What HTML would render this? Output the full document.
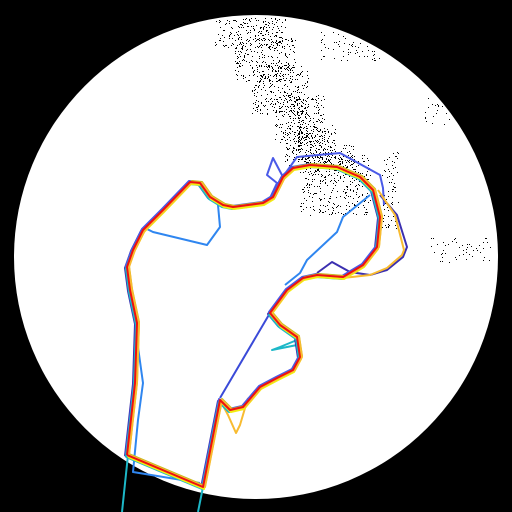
<!DOCTYPE html>
<html><head><meta charset="utf-8"><style>
html,body{margin:0;padding:0;background:#000;width:512px;height:512px;overflow:hidden}
svg{display:block}
</style></head><body>
<svg id="chart" width="512" height="512" viewBox="0 0 512 512" xmlns="http://www.w3.org/2000/svg">
<rect x="0" y="0" width="512" height="512" fill="#000"/>
<circle cx="256" cy="257" r="242" fill="#fff"/>
<g id="speckle"></g>
<g id="contours"></g>
</svg>
<script>
// main contour (x, y pairs)
const mainX = [127,135,137,130,127,133,143,163,190,200,210,223,233,263,273,283,293,310,337,360,373,380,377,363,343,317,303,287,270,280,297,300,293,277,260,243,230,220,203,127];
const mainY = [455,383,323,290,267,250,230,210,182,183,197,205,207,203,197,177,168,165,167,177,190,217,247,265,277,275,278,290,313,325,337,357,370,378,387,407,410,400,487,455];
const seriesColors = ['#3b2fb0','#4a5ae8','#2f86f0','#1db8c8','#5cc85a','#c8b820','#f2ee10','#f8bb30','#ee1010'];
const seriesDx = [-2,-1,1,-1,1,2,1,2,0];
const seriesDy = [1,-1,0,2,1,-1,2,0,0];
// extra features
const headBlueX = [283,273,267,277,270,275,297,340,380,383,384];
const headBlueY = [177,158,175,183,198,188,157,153,175,188,205];
const innerBlueX = [370,343,337,307,300,285];
const innerBlueY = [195,217,232,260,273,285];
const triBlueX = [145,153,207,220,218,213];
const triBlueY = [228,232,245,227,205,197];
const shaftBlueX = [220,270];
const shaftBlueY = [398,313];
const leftShaftX = [137,143,138,133,200];
const leftShaftY = [340,383,420,472,483];
const outerHeadX = [380,397,407,403,387,370,350,332,317];
const outerHeadY = [195,215,247,257,270,275,272,262,273];
const orangeHeadX = [378,395,404,402,387,370,343];
const orangeHeadY = [190,215,250,255,268,275,278];
const cyanArtX = [297,280,272,297];
const cyanArtY = [340,347,350,345];
const tailLX = [128,122];
const tailLY = [455,512];
const tailRX = [203,198];
const tailRY = [487,512];
const notchX = [220,228,236,240,248];
const notchY = [400,415,433,425,398];

const svg = document.getElementById('contours');
const NS = 'http://www.w3.org/2000/svg';
function poly(xs, ys, dx, dy, color, name, w){
  const p = document.createElementNS(NS,'polyline');
  p.setAttribute('points', xs.map((x,i)=>(x+dx)+','+(ys[i]+dy)).join(' '));
  p.setAttribute('fill','none');
  p.setAttribute('stroke',color);
  p.setAttribute('stroke-width',w||2);
  p.setAttribute('stroke-linejoin','round');
  
  
  svg.appendChild(p);
}
poly(headBlueX, headBlueY, 0,0,'#4a5ae8','head-outline-blue');
poly(innerBlueX, innerBlueY, 0,0,'#2f86f0','inner-line-blue');
poly(triBlueX, triBlueY, 0,0,'#2f86f0','trochanter-line-blue');
poly(shaftBlueX, shaftBlueY, 0,0,'#3a4ad8','shaft-line-blue');
poly(leftShaftX, leftShaftY, 0,0,'#2f86f0','left-shaft-blue');
poly(outerHeadX, outerHeadY, 0,0,'#3b2fb0','outer-head-darkblue');
poly(orangeHeadX, orangeHeadY, 0,0,'#f8bb30','outer-head-orange');
poly(cyanArtX, cyanArtY, 0,0,'#1db8c8','cyan-artifact');
poly(notchX, notchY, 0,0,'#f8bb30','notch-orange');
poly(tailLX, tailLY, 0,0,'#1db8c8','tail-left');
poly(tailRX, tailRY, 0,0,'#1db8c8','tail-right');
seriesColors.forEach((c,i)=>poly(mainX, mainY, seriesDx[i], seriesDy[i], c, 'contour-'+i));

// speckle texture
const sp = document.getElementById('speckle');
let seed = 7;
function rnd(){ seed = (seed*16807)%2147483647; return seed/2147483647; }
const blobs = [[250,30,35,18,260],[265,60,30,22,260],[280,90,28,25,260],[300,120,25,25,260],[310,145,25,20,180],[335,185,35,30,330],[330,160,25,15,120],[350,45,30,15,80],[300,130,3,20,60],[390,190,8,40,70],[460,250,30,12,50],[440,110,15,15,25]];
let d='';
blobs.forEach(b=>{ for(let k=0;k<b[4];k++){ const x=Math.round(b[0]+(rnd()*2-1)*b[2]), y=Math.round(b[1]+(rnd()*2-1)*b[3]); if((x-256)*(x-256)+(y-257)*(y-257)<240*240) d+='M'+x+' '+y+'h1v1h-1z'; }});
const sp1=document.createElementNS(NS,'path');
sp1.setAttribute('d',d); sp1.setAttribute('fill','#000');


sp.appendChild(sp1);
</script>
</body></html>
